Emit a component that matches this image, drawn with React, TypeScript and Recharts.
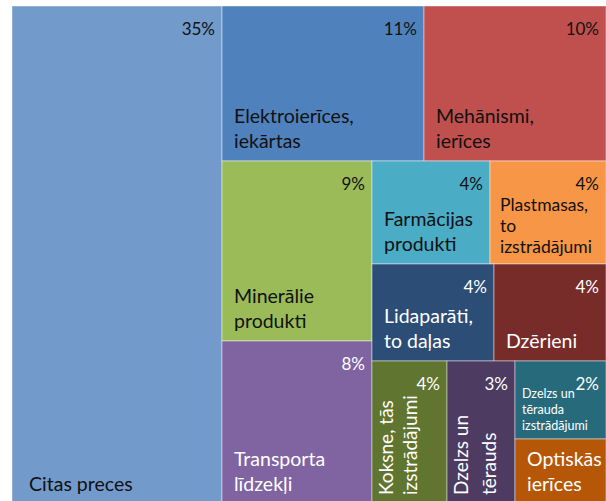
import React from "react";
import { Treemap } from "recharts";

// shares of total, %, largest first (the treemap lays them out in this order)
const categories = [
  "Citas preces",
  "Elektroierīces,\niekārtas",
  "Mehānismi,\nierīces",
  "Minerālie\nprodukti",
  "Transporta\nlīdzekļi",
  "Farmācijas\nprodukti",
  "Plastmasas,\nto\nizstrādājumi",
  "Lidaparāti,\nto daļas",
  "Dzērieni",
  "Koksne, tās\nizstrādājumi",
  "Dzelzs un\ntērauds",
  "Dzelzs un\ntērauda\nizstrādājumi",
  "Optiskās\nierīces",
];
const shares = [35.4, 10.6, 9.5, 9.1, 8.3, 4.1, 4.05, 4.0, 3.7, 3.6, 3.3, 2.4, 1.9];
const shareLabels = ["35%", "11%", "10%", "9%", "8%", "4%", "4%", "4%", "4%", "4%", "3%", "2%", ""];
const colors = [
  "#729ACA", "#4F81BD", "#C0504D", "#9BBB59", "#8064A2", "#4BACC6", "#F79646",
  "#2C4D75", "#772C2A", "#5F7530", "#4D3B62", "#276A7C", "#B65708",
];

const data = categories.map((name, i) => ({ name, value: shares[i] }));

const FONT = "Lato, 'Open Sans', sans-serif";
const whiteText = new Set([4, 7, 8, 9, 10, 11, 12]);
const labelStyle: Record<
  number,
  { size: number; lh: number; rotate?: boolean; padX?: number; padB?: number }
> = {
  0: { size: 19.5, lh: 25, padX: 17 },
  6: { size: 17.5, lh: 21, padX: 10, padB: 11 },
  9: { size: 19, lh: 24, rotate: true },
  10: { size: 19, lh: 28, rotate: true },
  11: { size: 12.5, lh: 16, padX: 7, padB: 9 },
};

function TreeCell(props: any) {
  const { x, y, width, height, depth, index, name } = props;
  if (depth !== 1) return null;
  const fg = whiteText.has(index) ? "#fff" : "#111";
  const st = labelStyle[index] ?? { size: 19.5, lh: 25 };
  const lines = String(name).split("\n");
  const padX = st.padX ?? 12;
  const padB = st.padB ?? 13;

  return (
    <g>
      <rect
        x={x}
        y={y}
        width={width}
        height={height}
        fill={colors[index]}
        stroke="rgba(255,255,255,0.45)"
        strokeWidth={1}
      />
      <text x={x + width - 7} y={y + 29} textAnchor="end" fontSize={17} fontFamily={FONT} fill={fg}>
        {shareLabels[index]}
      </text>
      {st.rotate ? (
        <text
          transform={`translate(${x + 21}, ${y + height - 9}) rotate(-90)`}
          fontSize={st.size}
          fontFamily={FONT}
          fill={fg}
        >
          {lines.map((l, i) => (
            <tspan key={i} x={0} y={i * st.lh}>
              {l}
            </tspan>
          ))}
        </text>
      ) : (
        <text fontSize={st.size} fontFamily={FONT} fill={fg}>
          {lines.map((l, i) => (
            <tspan key={i} x={x + padX} y={y + height - padB - (lines.length - 1 - i) * st.lh}>
              {l}
            </tspan>
          ))}
        </text>
      )}
    </g>
  );
}

export default function App() {
  return (
    <div style={{ position: "absolute", left: 12, top: 6 }}>
      <Treemap
        width={594}
        height={498}
        data={data}
        dataKey="value"
        nameKey="name"
        aspectRatio={0.8}
        isAnimationActive={false}
        isUpdateAnimationActive={false}
        content={<TreeCell />}
      />
    </div>
  );
}
